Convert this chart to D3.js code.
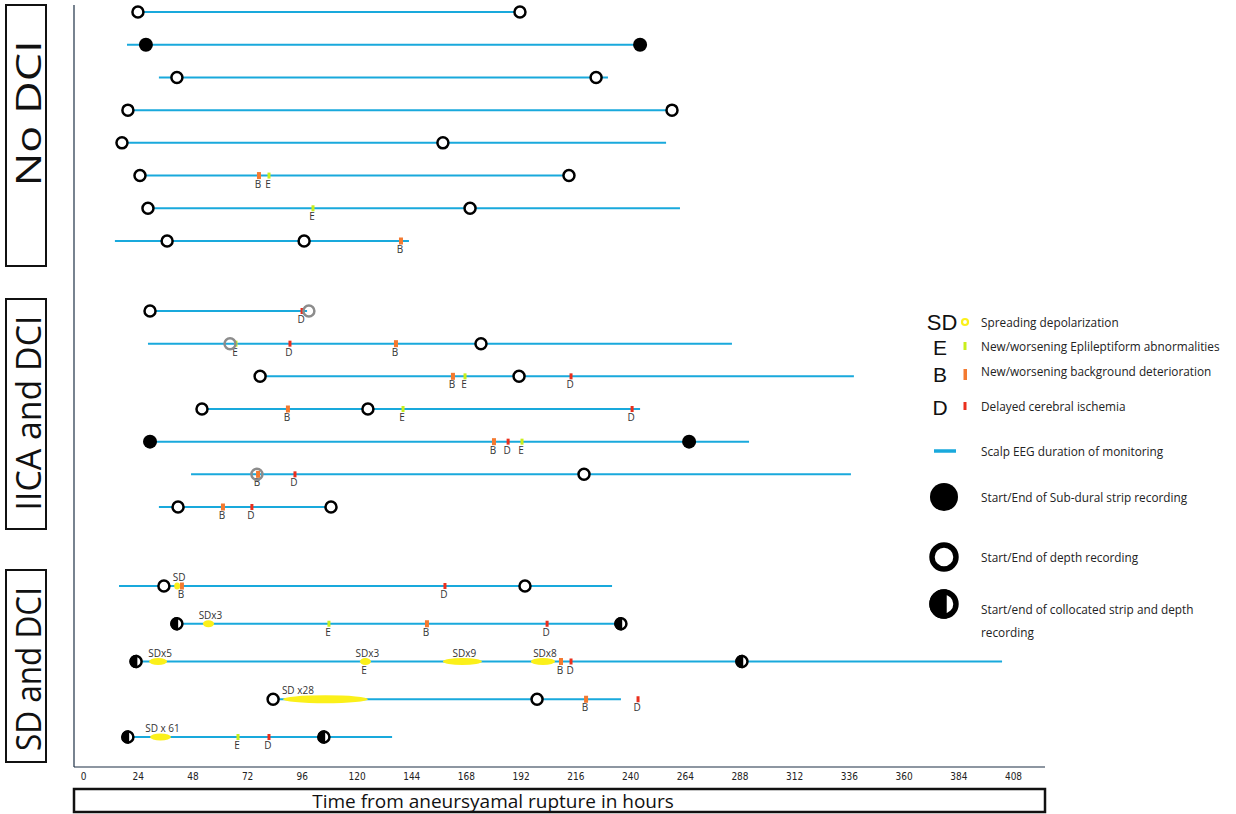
<!DOCTYPE html>
<html>
  <head>
    <meta charset="utf-8">
    <title>EEG monitoring timelines</title>
    <script src="https://cdn.jsdelivr.net/npm/d3@7"></script>
    <style>
      body { margin: 0; background: #fff; }
      svg { font-family: "Open Sans", sans-serif; }
      .tick text { font-family: "Liberation Sans Narrow", "DejaVu Sans Condensed", sans-serif; font-size: 10px; fill: #222; }
      .evLabel, .sdLabel { font-size: 10px; fill: #333; }
      .legText { font-size: 11.8px; fill: #222; }
    </style>
  </head>

  <body>
    <svg id="chart" width="1236" height="814"></svg>

    <script>
      // data (hours from aneurysmal rupture)
      groups = ["No DCI", "IICA and DCI", "SD and DCI"];
      rowGroup = [0, 0, 0, 0, 0, 0, 0, 0, 1, 1, 1, 1, 1, 1, 1, 2, 2, 2, 2, 2];
      eegStart = [24.1, 19.3, 33.3, 19.7, 17.1, 25.0, 28.5, 14.0, 29.4, 28.5, 77.7, 52.2, 29.4, 47.4, 33.3, 15.8, 41.2, 23.3, 83.4, 19.7];
      eegEnd = [191.7, 244.4, 230.3, 258.8, 255.8, 213.2, 261.9, 143.0, 98.3, 284.7, 338.2, 244.4, 292.2, 336.9, 108.8, 232.1, 236.0, 403.2, 236.0, 135.6];

      // start/end of invasive recordings: [row, hour, type]
      recordings = [
        [0, 24.1, "depth"], [0, 191.7, "depth"],
        [1, 27.6, "strip"], [1, 244.4, "strip"],
        [2, 41.2, "depth"], [2, 225.1, "depth"],
        [3, 19.7, "depth"], [3, 258.4, "depth"],
        [4, 17.1, "depth"], [4, 157.9, "depth"],
        [5, 25.0, "depth"], [5, 213.2, "depth"],
        [6, 28.5, "depth"], [6, 169.8, "depth"],
        [7, 36.9, "depth"], [7, 97.0, "depth"],
        [8, 29.4, "depth"], [8, 99.1, "grey"],
        [9, 64.5, "grey"], [9, 174.6, "depth"],
        [10, 77.7, "depth"], [10, 191.3, "depth"],
        [11, 52.2, "depth"], [11, 125.0, "depth"],
        [12, 29.4, "strip"], [12, 265.9, "strip"],
        [13, 76.3, "grey"], [13, 219.8, "depth"],
        [14, 41.7, "depth"], [14, 108.8, "depth"],
        [15, 35.5, "depth"], [15, 193.9, "depth"],
        [16, 41.2, "both"], [16, 236.0, "both"],
        [17, 23.3, "both"], [17, 289.1, "both"],
        [18, 83.4, "depth"], [18, 199.2, "depth"],
        [19, 19.7, "both"], [19, 105.7, "both"]
      ];

      // events: [row, hour, kind]
      events = [
        [5, 77.2, "B"], [5, 81.6, "E"],
        [6, 100.9, "E"],
        [7, 139.5, "B"],
        [8, 96.1, "D"],
        [9, 67.1, "E"], [9, 90.8, "D"], [9, 137.3, "B"],
        [10, 162.3, "B"], [10, 167.6, "E"], [10, 214.1, "D"],
        [11, 89.9, "B"], [11, 140.4, "E"], [11, 240.9, "D"],
        [12, 180.3, "B"], [12, 186.5, "D"], [12, 192.6, "E"],
        [13, 76.8, "B"], [13, 93.0, "D"],
        [14, 61.4, "B"], [14, 74.1, "D"],
        [15, 43.4, "B"], [15, 158.8, "D"],
        [16, 107.9, "E"], [16, 150.9, "B"], [16, 203.6, "D"],
        [17, 123.7, "E"], [17, 209.7, "B"], [17, 214.1, "D"],
        [18, 220.7, "B"], [18, 243.5, "D"],
        [19, 68.0, "E"], [19, 81.6, "D"]
      ];

      // spreading depolarization clusters: [row, start, end, label]
      sdClusters = [
        [15, 40.0, 42.6, "SD"],
        [16, 52.6, 57.5, "SDx3"],
        [17, 29.0, 36.9, "SDx5"],
        [17, 121.5, 126.3, "SDx3"],
        [17, 157.9, 175.0, "SDx9"],
        [17, 196.5, 207.1, "SDx8"],
        [18, 87.7, 125.0, "SD x28"],
        [19, 29.4, 38.6, "SD x 61"]
      ];

      tickValues = d3.range(0, 409, 24);
      axisTitle = "Time from aneursyamal rupture in hours";

      legendItems = [
        "Spreading depolarization",
        "New/worsening Eplileptiform abnormalities",
        "New/worsening background deterioration",
        "Delayed cerebral ischemia",
        "Scalp EEG duration of monitoring",
        "Start/End of Sub-dural strip recording",
        "Start/End of  depth recording",
        "Start/end of collocated strip and depth"
      ];

      // colours
      eegColour = "#19a9dc";
      eventColour = { B: "#f47a30", E: "#c9ef1c", D: "#ea2f1d" };
      sdColour = "#fbf01a";

      chart = d3.select("#chart");

      // scales
      x = d3.scaleLinear().domain([0, 408]).range([83, 1013]);

      groupBox = [[5, 266], [299, 529], [570, 762]];
      groupPad = [[7, 25], [12, 22], [16, 25]];
      rowScales = groups.map((g, gi) => {
        let rows = d3.range(rowGroup.length).filter(r => rowGroup[r] == gi);
        return d3.scalePoint()
          .domain(rows)
          .range([groupBox[gi][0] + groupPad[gi][0], groupBox[gi][1] - groupPad[gi][1]]);
      });
      y = r => rowScales[rowGroup[r]](r);

      // group labels
      labelLength = [146, 195, 164];
      labelShift = [-22, -1, 3];
      groups.forEach((g, gi) => {
        let [t, b] = groupBox[gi];
        chart.append("rect")
          .attr("x", 6).attr("y", t)
          .attr("width", 40).attr("height", b - t)
          .attr("fill", "none").attr("stroke", "#111").attr("stroke-width", 2);
        chart.append("text")
          .attr("transform", "translate(27," + ((t + b) / 2 + labelShift[gi]) + ") rotate(-90)")
          .attr("text-anchor", "middle")
          .attr("dominant-baseline", "central")
          .attr("textLength", labelLength[gi])
          .attr("lengthAdjust", "spacingAndGlyphs")
          .style("font-size", "35px")
          .style("fill", "#111")
          .text(g);
      });

      // axes frame
      chart.append("line")
        .attr("x1", 74).attr("x2", 74).attr("y1", 5).attr("y2", 767)
        .attr("stroke", "#1d2f45").attr("stroke-width", 1.2);
      chart.append("line")
        .attr("x1", 74).attr("x2", 1045).attr("y1", 767).attr("y2", 767)
        .attr("stroke", "#1d2f45").attr("stroke-width", 1.2);

      axis = d3.axisBottom(x)
        .tickValues(tickValues)
        .tickSize(0)
        .tickPadding(6);
      axisGroup = chart.append("g")
        .attr("transform", "translate(0,767)")
        .call(axis);
      axisGroup.select(".domain").remove();

      chart.append("rect")
        .attr("x", 74).attr("y", 789)
        .attr("width", 971).attr("height", 23)
        .attr("fill", "none").attr("stroke", "#111").attr("stroke-width", 2.5);
      chart.append("text")
        .attr("x", 493).attr("y", 801)
        .attr("text-anchor", "middle")
        .attr("dominant-baseline", "central")
        .style("font-size", "19px")
        .style("fill", "#111")
        .text(axisTitle);

      // scalp EEG lines
      plot = chart.append("g");
      plot.selectAll(".eeg")
        .data(d3.range(eegStart.length))
        .enter().append("line")
          .attr("x1", r => x(eegStart[r]))
          .attr("x2", r => x(eegEnd[r]))
          .attr("y1", r => y(r))
          .attr("y2", r => y(r))
          .attr("stroke", eegColour)
          .attr("stroke-width", 2);

      // events
      plot.selectAll(".ev")
        .data(events)
        .enter().append("rect")
          .attr("x", d => x(d[1]) - (d[2] == "B" ? 2 : 1.5))
          .attr("y", d => y(d[0]) - (d[2] == "B" ? 3.5 : 3))
          .attr("width", d => d[2] == "B" ? 4 : 3)
          .attr("height", d => d[2] == "B" ? 7 : 6)
          .attr("fill", d => eventColour[d[2]]);
      plot.selectAll(".evLabel")
        .data(events)
        .enter().append("text")
          .attr("class", "evLabel")
          .attr("x", d => x(d[1]) - 1)
          .attr("y", d => y(d[0]) + 12)
          .attr("text-anchor", "middle")
          .text(d => d[2]);

      // SD clusters
      plot.selectAll(".sd")
        .data(sdClusters)
        .enter().append("ellipse")
          .attr("cx", d => (x(d[1]) + x(d[2])) / 2)
          .attr("cy", d => y(d[0]))
          .attr("rx", d => (x(d[2]) - x(d[1])) / 2)
          .attr("ry", d => x(d[2]) - x(d[1]) > 40 ? 4 : 3.5)
          .attr("fill", sdColour);
      plot.selectAll(".sdLabel")
        .data(sdClusters)
        .enter().append("text")
          .attr("class", "sdLabel")
          .attr("x", d => x(d[2]) - x(d[1]) > 50 ? x(d[1]) - 1 : (x(d[1]) + x(d[2])) / 2 + 2)
          .attr("y", d => y(d[0]) - 5)
          .attr("text-anchor", d => x(d[2]) - x(d[1]) > 50 ? "start" : "middle")
          .text(d => d[3]);

      // recording markers
      function drawMarker(g, cx, cy, type, r) {
        if (type == "strip") {
          g.append("circle").attr("cx", cx).attr("cy", cy).attr("r", r + 1.5).attr("fill", "#000");
        } else if (type == "grey") {
          g.append("circle").attr("cx", cx).attr("cy", cy).attr("r", r)
            .attr("fill", "none").attr("stroke", "#8c8c8c").attr("stroke-width", r / 2.2);
        } else {
          g.append("circle").attr("cx", cx).attr("cy", cy).attr("r", r)
            .attr("fill", "#fff").attr("stroke", "#000").attr("stroke-width", r / 2.2);
          if (type == "both") {
            g.append("path")
              .attr("d", "M" + cx + "," + (cy - r) + " A" + r + "," + r + " 0 0 0 " + cx + "," + (cy + r) + " Z")
              .attr("fill", "#000").attr("stroke", "#000").attr("stroke-width", r / 2.2);
          }
        }
      }
      recordings.forEach(d => drawMarker(plot, x(d[1]), y(d[0]), d[2], 5.5));

      // legend
      legend = chart.append("g");
      legendY = [322, 346, 371, 406, 451, 497, 557, 609];
      legend.selectAll(".legText")
        .data(legendItems)
        .enter().append("text")
          .attr("class", "legText")
          .attr("x", 981)
          .attr("y", (d, i) => legendY[i])
          .attr("dominant-baseline", "central")
          .text(d => d);
      legend.append("text")
        .attr("class", "legText")
        .attr("x", 981).attr("y", 632)
        .attr("dominant-baseline", "central")
        .text("recording");

      legendLetters = ["SD", "E", "B", "D"];
      legend.selectAll(".legLetter")
        .data(legendLetters)
        .enter().append("text")
          .attr("x", (d, i) => i == 0 ? 942 : 940)
          .attr("y", (d, i) => [322, 347, 374, 407][i])
          .attr("text-anchor", "middle")
          .attr("dominant-baseline", "central")
          .style("font-family", "'Liberation Sans', sans-serif")
          .style("font-size", (d, i) => i == 0 ? "22px" : "21px")
          .style("fill", "#111")
          .text(d => d);
      legend.append("circle")
        .attr("cx", 965).attr("cy", 322).attr("r", 3)
        .attr("fill", "#fff").attr("stroke", sdColour).attr("stroke-width", 2.2);
      legend.append("rect").attr("x", 963.5).attr("y", 342).attr("width", 3).attr("height", 8).attr("fill", eventColour.E);
      legend.append("rect").attr("x", 963.5).attr("y", 369).attr("width", 3.5).attr("height", 11).attr("fill", eventColour.B);
      legend.append("rect").attr("x", 963.5).attr("y", 402).attr("width", 3).attr("height", 8).attr("fill", eventColour.D);
      legend.append("line")
        .attr("x1", 934).attr("x2", 956).attr("y1", 451).attr("y2", 451)
        .attr("stroke", eegColour).attr("stroke-width", 3.5);
      drawMarker(legend, 944, 497, "strip", 12.5);
      drawMarker(legend, 944, 557, "depth", 12);
      drawMarker(legend, 944, 604, "both", 12);
    </script>
  </body>
</html>
